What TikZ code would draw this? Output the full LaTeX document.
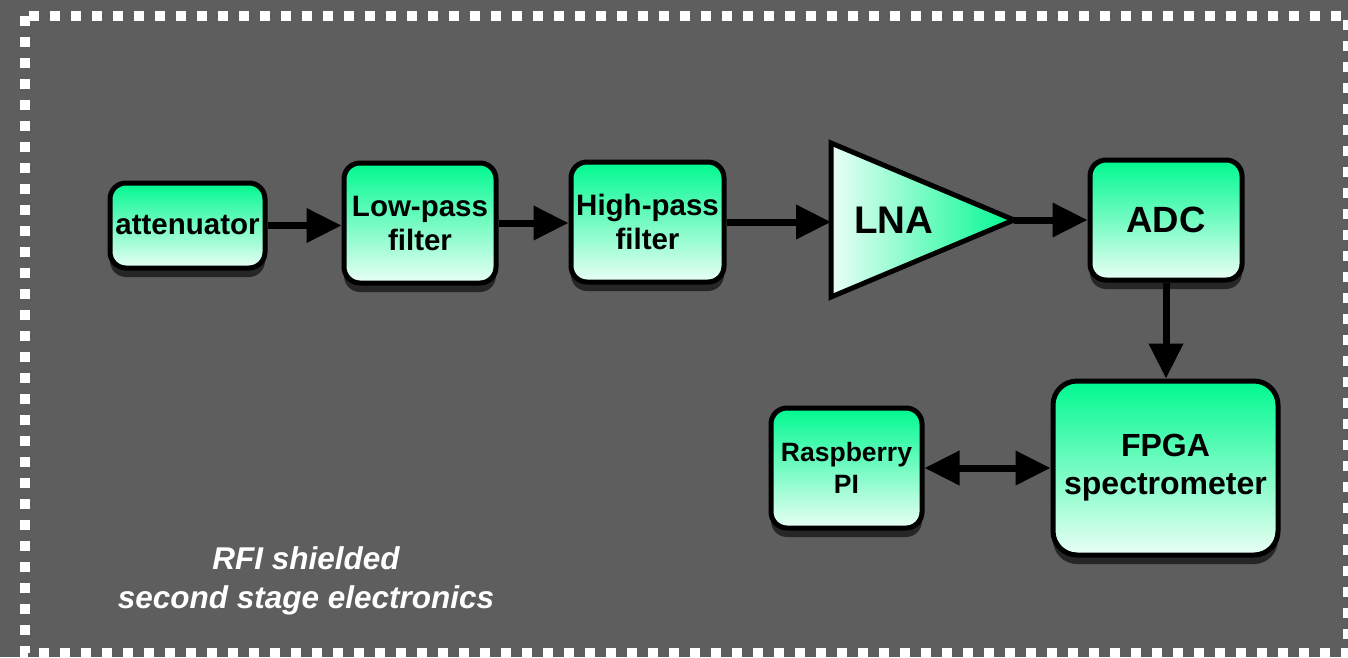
\documentclass[tikz,border=0pt]{standalone}
\usepackage{fontspec}
\setmainfont{Liberation Sans}
\usetikzlibrary{arrows.meta,shadows}
\definecolor{bg}{HTML}{5E5E5E}
\definecolor{gtop}{HTML}{00F890}
\definecolor{gbot}{HTML}{EAFFF5}
\begin{document}
\begin{tikzpicture}[x=1pt,y=-1pt,
  blk/.style={draw=black, line width=5pt, rounded corners=16pt,
    top color=gtop, bottom color=gbot, align=center, inner sep=0pt,
    font=\bfseries\fontsize{29.5}{34}\selectfont,
    drop shadow={shadow xshift=0pt, shadow yshift=-9pt, fill=black!90, opacity=0.8}},
  conn/.style={line width=7pt, -{Triangle[length=35pt,width=33pt]}},
  biconn/.style={line width=7pt, {Triangle[length=35pt,width=33pt]}-{Triangle[length=35pt,width=33pt]}}
]
\useasboundingbox (0,0) rectangle (1348,657);
\fill[bg] (0,0) rectangle (1348,657);
\draw[white, line width=10pt, dash pattern=on 10pt off 11pt] (25,16) rectangle (1348,653);

\node[blk, minimum width=155pt, minimum height=85pt] (att) at (187.5,225.5) {attenuator};
\node[blk, minimum width=152pt, minimum height=120pt] (lp) at (420,223) {Low-pass\\filter};
\node[blk, minimum width=153pt, minimum height=120pt] (hp) at (647.5,222) {High-pass\\filter};
\node[blk, minimum width=152pt, minimum height=120pt, font=\bfseries\fontsize{36.5}{40}\selectfont] (adc) at (1166,220) {ADC};
\node[blk, minimum width=225pt, minimum height=174pt, rounded corners=24pt, font=\bfseries\fontsize{32}{38}\selectfont] (fpga) at (1165.5,468) {FPGA\\spectrometer};
\node[blk, minimum width=151pt, minimum height=120pt, font=\bfseries\fontsize{26.5}{32}\selectfont] (rpi) at (846.5,468) {Raspberry\\PI};

\shade[left color=white!92!gtop, right color=gtop, draw=black, line width=5pt, line join=miter]
  (831,143) -- (831,297) -- (1014,220) -- cycle;
\coordinate (lnain) at (831,222);
\coordinate (lnaout) at (1014,220);
\node[font=\bfseries\fontsize{38.5}{40}\selectfont] (lnalabel) at (894,220) {LNA};

\node[white, align=center, font=\bfseries\itshape\fontsize{31.5}{39}\selectfont] (rfi) at (306,581) {RFI shielded\\second stage electronics};

\draw[conn] (att.east) -- (att.east -| lp.west);
\draw[conn] (lp.east) -- (lp.east -| hp.west);
\draw[conn] (hp.east) -- (hp.east -| lnain);
\draw[conn] (lnaout) -- (lnaout -| adc.west);
\draw[conn] (adc.south) -- (adc.south |- fpga.north);
\draw[biconn] (rpi.east) -- (fpga.west);
\end{tikzpicture}
\end{document}
